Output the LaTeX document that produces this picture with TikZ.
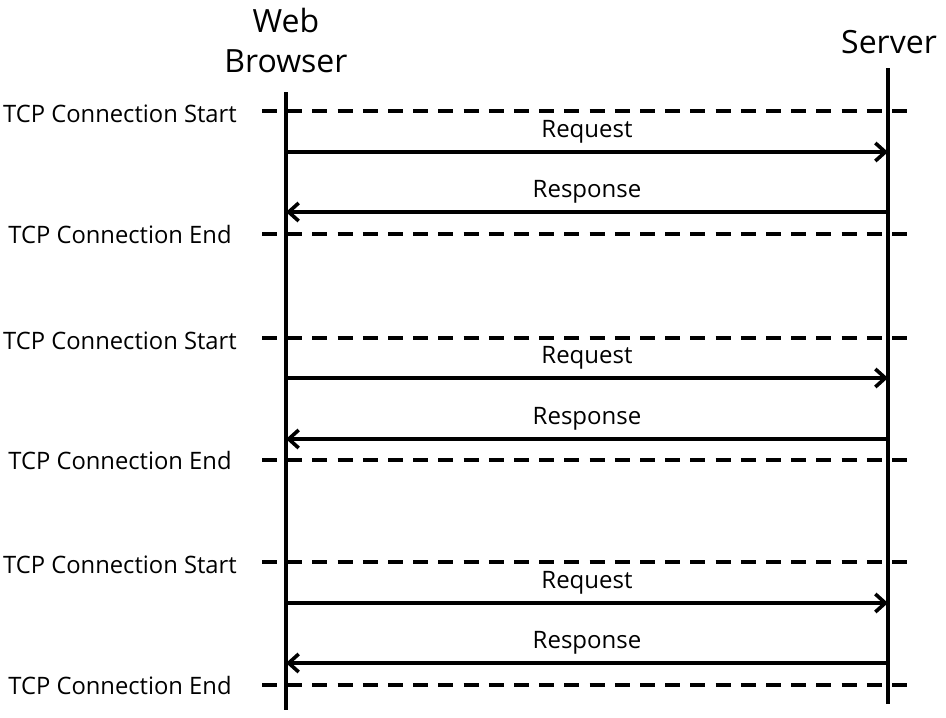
\documentclass[tikz,border=0pt]{standalone}
\usepackage{fontspec}
\setmainfont{Open Sans}
\usetikzlibrary{arrows.meta}
\begin{document}
\begin{tikzpicture}[x=1pt,y=-1pt,
  life/.style={line width=4pt},
  sep/.style={line width=4pt, dash pattern=on 15pt off 10.2pt},
  msg/.style={line width=3.6pt, -{Straight Barb[length=10pt,width=18pt,line width=3.6pt]}},
  lbl/.style={font=\fontsize{24}{26}\selectfont, inner sep=0pt},
  tcp/.style={font=\fontsize{24}{26}\selectfont, inner sep=0pt, xscale=0.99},
  hdr/.style={font=\fontsize{32}{40}\selectfont, inner sep=0pt, align=center}]
\useasboundingbox (0,0) rectangle (946,718);
\node[hdr] (wb) at (286,40) {Web\\Browser};
\node[hdr] (sv) at (889,42) {Server};
\coordinate (bt) at (286,92);
\coordinate (bb) at (286,710);
\coordinate (st) at (888,68);
\coordinate (sb) at (888,704);
\draw[life] (bt) -- (bb);
\draw[life] (st) -- (sb);
\foreach \i/\s/\e/\q/\r in {1/111/234/152/212, 2/338/460/378/439, 3/562/685/603/663}{
  \coordinate (ls\i) at (262,\s); \coordinate (rs\i) at (907,\s);
  \coordinate (le\i) at (262,\e); \coordinate (re\i) at (907,\e);
  \draw[sep] (ls\i) -- (rs\i);
  \draw[sep] (le\i) -- (re\i);
  \node[tcp] (tcs\i) at (120,\s+3) {TCP Connection Start};
  \node[tcp] (tce\i) at (120,\e) {TCP Connection End};
  \coordinate (qa\i) at (286,\q); \coordinate (qb\i) at (888,\q);
  \coordinate (ra\i) at (888,\r); \coordinate (rb\i) at (286,\r);
  \draw[msg] (qa\i) -- (qb\i);
  \draw[msg] (ra\i) -- (rb\i);
  \node[lbl] (rq\i) at (587,\q-20) {Request};
  \node[lbl] (rp\i) at (587,\r-20) {Response};
}
\end{tikzpicture}
\end{document}
